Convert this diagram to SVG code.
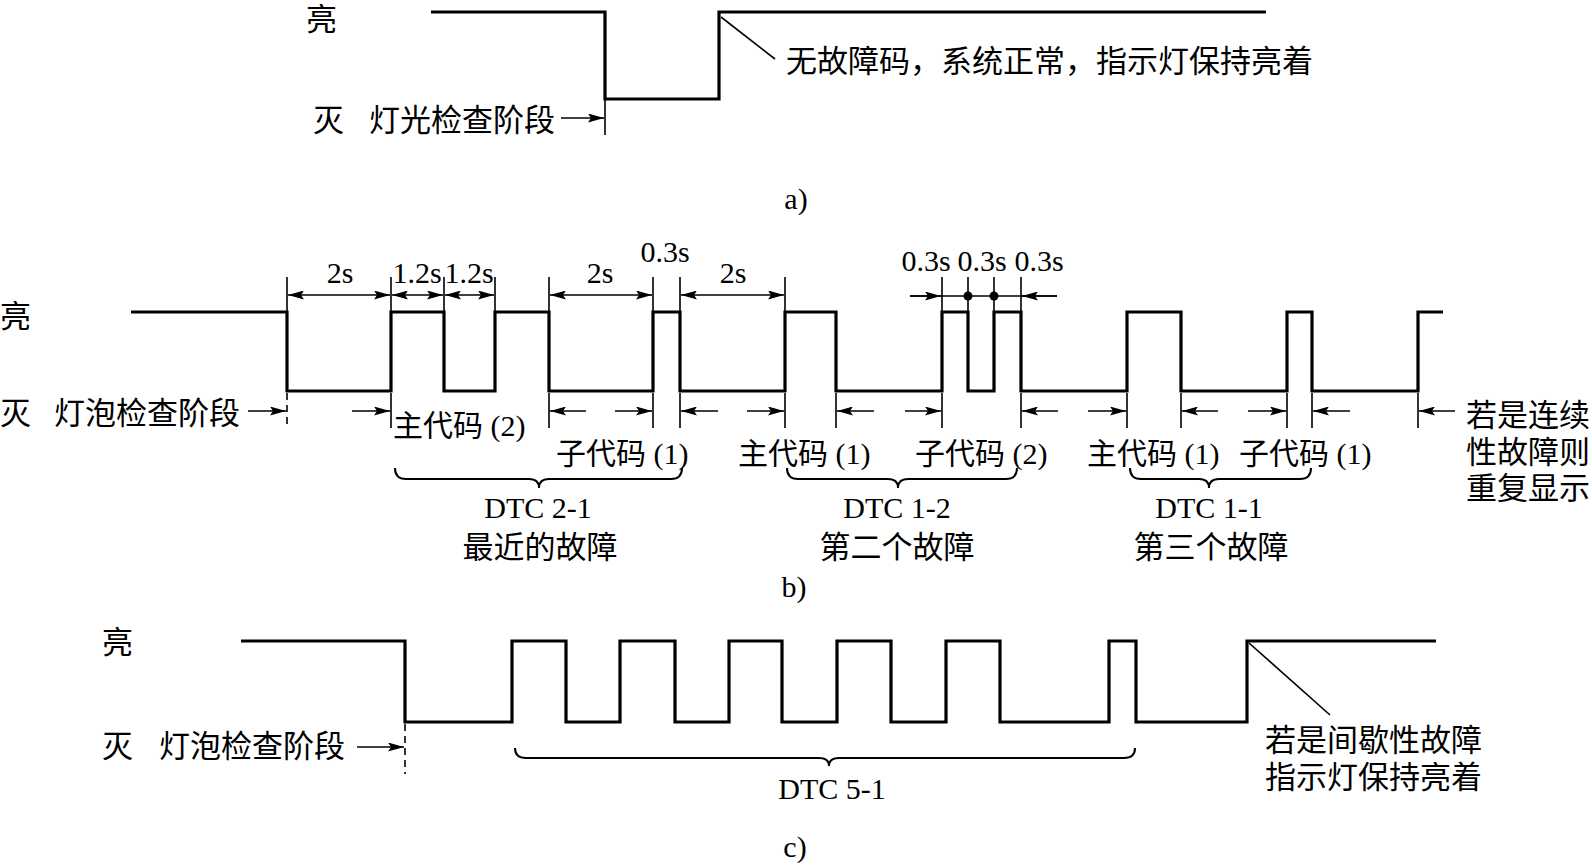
<svg xmlns="http://www.w3.org/2000/svg" width="1592" height="865" viewBox="0 0 1592 865">
<style>
.wave{fill:none;stroke:#000;stroke-width:3.2;stroke-linejoin:miter}
.thin{fill:none;stroke:#000;stroke-width:1.6}
.dash{fill:none;stroke:#000;stroke-width:1.6;stroke-dasharray:7 5}
.brace{fill:none;stroke:#000;stroke-width:2}
.arr{fill:none;stroke:#000;stroke-width:1.6;marker-end:url(#ah)}
.darr{fill:none;stroke:#000;stroke-width:1.6;marker-start:url(#ah);marker-end:url(#ah)}
.cjk{font-family:"Noto Sans CJK SC",sans-serif;font-size:31px;fill:#000}
.lat{font-family:"Liberation Serif","Noto Sans CJK SC",serif;font-size:30px;fill:#000}
.mid{text-anchor:middle}
</style>
<defs>
<marker id="ah" viewBox="0 0 16 9" refX="16" refY="4.5" markerWidth="16" markerHeight="9" markerUnits="userSpaceOnUse" orient="auto-start-reverse">
<path d="M0,0 L16,4.5 L0,9 L3,4.5 Z" fill="#000"/>
</marker>
</defs>
<rect width="1592" height="865" fill="#fff"/>

<!-- Panel a -->
<g id="panel-a">
<path class="wave" d="M431,12 H605 V99 H719 V12 H1266"/>
<line class="thin" x1="605" y1="100" x2="605" y2="135"/>
<line class="arr" x1="561" y1="118" x2="604" y2="118"/>
<line class="thin" x1="721" y1="17" x2="775" y2="59"/>
<text class="cjk" x="306" y="30">亮</text>
<text class="cjk" x="313" y="131">灭</text>
<text class="cjk" x="369" y="131">灯光检查阶段</text>
<text class="cjk" x="786" y="72">无故障码，系统正常，指示灯保持亮着</text>
<text class="lat mid" x="796" y="209">a)</text>
</g>

<!-- Panel b -->
<g id="panel-b">
<path class="wave" d="M131,312 H287 V391 H391 V312 H444 V391 H495 V312 H549 V391 H653 V312 H680 V391 H785 V312 H836 V391 H942 V312 H968 V391 H994 V312 H1021 V391 H1127 V312 H1181 V391 H1287 V312 H1312 V391 H1418 V312 H1443"/>
<g id="b-ticks-top">
<path class="thin" d="M287,277 V312 M391,277 V312 M444,277 V312 M495,277 V312 M549,277 V312 M653,277 V312 M680,277 V312 M785,277 V312 M942,277 V312 M968,277 V312 M994,277 V312 M1021,277 V312"/>
</g>
<g id="b-dims">
<line class="darr" x1="288" y1="295" x2="390" y2="295"/>
<line class="darr" x1="392" y1="295" x2="443" y2="295"/>
<line class="darr" x1="445" y1="295" x2="494" y2="295"/>
<line class="darr" x1="550" y1="295" x2="652" y2="295"/>
<line class="darr" x1="681" y1="295" x2="784" y2="295"/>
<line class="thin" x1="910" y1="296" x2="1057" y2="296"/>
<line class="arr" x1="910" y1="296" x2="941" y2="296"/>
<line class="arr" x1="1057" y1="296" x2="1022" y2="296"/>
<circle cx="968" cy="296" r="4.5" fill="#000"/>
<circle cx="994" cy="296" r="4.5" fill="#000"/>
<text class="lat mid" x="340" y="283">2s</text>
<text class="lat mid" x="417" y="283">1.2s</text>
<text class="lat mid" x="469" y="283">1.2s</text>
<text class="lat mid" x="600" y="283">2s</text>
<text class="lat mid" x="665" y="262">0.3s</text>
<text class="lat mid" x="733" y="283">2s</text>
<text class="lat mid" x="926" y="271">0.3s</text>
<text class="lat mid" x="982" y="271">0.3s</text>
<text class="lat mid" x="1039" y="271">0.3s</text>
</g>
<g id="b-ticks-bottom">
<line class="dash" x1="287" y1="393" x2="287" y2="428"/>
<path class="thin" d="M391,393 V428 M549,393 V428 M653,393 V428 M680,393 V428 M785,393 V428 M836,393 V428 M942,393 V428 M1021,393 V428 M1127,393 V428 M1181,393 V428 M1287,393 V428 M1312,393 V428 M1418,393 V428"/>
</g>
<g id="b-arrows">
<line class="arr" x1="248" y1="411" x2="286" y2="411"/>
<line class="arr" x1="352" y1="411" x2="390" y2="411"/>
<line class="arr" x1="586" y1="411" x2="550" y2="411"/>
<line class="arr" x1="615" y1="411" x2="652" y2="411"/>
<line class="arr" x1="718" y1="411" x2="681" y2="411"/>
<line class="arr" x1="747" y1="411" x2="784" y2="411"/>
<line class="arr" x1="874" y1="411" x2="837" y2="411"/>
<line class="arr" x1="905" y1="411" x2="941" y2="411"/>
<line class="arr" x1="1058" y1="411" x2="1022" y2="411"/>
<line class="arr" x1="1088" y1="411" x2="1126" y2="411"/>
<line class="arr" x1="1218" y1="411" x2="1182" y2="411"/>
<line class="arr" x1="1248" y1="411" x2="1286" y2="411"/>
<line class="arr" x1="1350" y1="411" x2="1313" y2="411"/>
<line class="arr" x1="1455" y1="411" x2="1419" y2="411"/>
</g>
<g id="b-braces">
<path class="brace" d="M395,468 Q395,479 406,479 H529 Q539,479 539,488 Q539,479 549,479 H671 Q682,479 682,468"/>
<path class="brace" d="M787,468 Q787,479 798,479 H888 Q898,479 898,488 Q898,479 908,479 H1006 Q1017,479 1017,468"/>
<path class="brace" d="M1130,468 Q1130,479 1141,479 H1199 Q1209,479 1209,488 Q1209,479 1219,479 H1300 Q1311,479 1311,468"/>
</g>
<text class="cjk" x="0" y="327">亮</text>
<text class="cjk" x="0" y="424">灭</text>
<text class="cjk" x="54" y="424">灯泡检查阶段</text>
<text class="lat" x="393" y="436">主代码 (2)</text>
<text class="lat" x="556" y="464">子代码 (1)</text>
<text class="lat" x="738" y="464">主代码 (1)</text>
<text class="lat" x="915" y="464">子代码 (2)</text>
<text class="lat" x="1087" y="464">主代码 (1)</text>
<text class="lat" x="1239" y="464">子代码 (1)</text>
<text class="lat mid" x="538" y="518">DTC 2-1</text>
<text class="lat mid" x="897" y="518">DTC 1-2</text>
<text class="lat mid" x="1209" y="518">DTC 1-1</text>
<text class="cjk mid" x="540" y="558">最近的故障</text>
<text class="cjk mid" x="897" y="558">第二个故障</text>
<text class="cjk mid" x="1211" y="558">第三个故障</text>
<text class="cjk" x="1466" y="426">若是连续</text>
<text class="cjk" x="1466" y="463">性故障则</text>
<text class="cjk" x="1466" y="499">重复显示</text>
<text class="lat mid" x="794" y="597">b)</text>
</g>

<!-- Panel c -->
<g id="panel-c">
<path class="wave" d="M241,641 H405 V722 H512 V641 H566 V722 H620 V641 H675 V722 H729 V641 H782 V722 H837 V641 H891 V722 H946 V641 H1000 V722 H1109 V641 H1136 V722 H1247 V641 H1436"/>
<line class="dash" x1="405" y1="724" x2="405" y2="774"/>
<line class="arr" x1="357" y1="747" x2="404" y2="747"/>
<path class="brace" d="M515,748 Q515,758 526,758 H819 Q829,758 829,766 Q829,758 839,758 H1124 Q1135,758 1135,748"/>
<line class="thin" x1="1249" y1="643" x2="1330" y2="715"/>
<text class="cjk" x="102" y="653">亮</text>
<text class="cjk" x="102" y="757">灭</text>
<text class="cjk" x="159" y="757">灯泡检查阶段</text>
<text class="lat mid" x="832" y="799">DTC 5-1</text>
<text class="cjk" x="1265" y="751">若是间歇性故障</text>
<text class="cjk" x="1265" y="788">指示灯保持亮着</text>
<text class="lat mid" x="795" y="857">c)</text>
</g>
</svg>
